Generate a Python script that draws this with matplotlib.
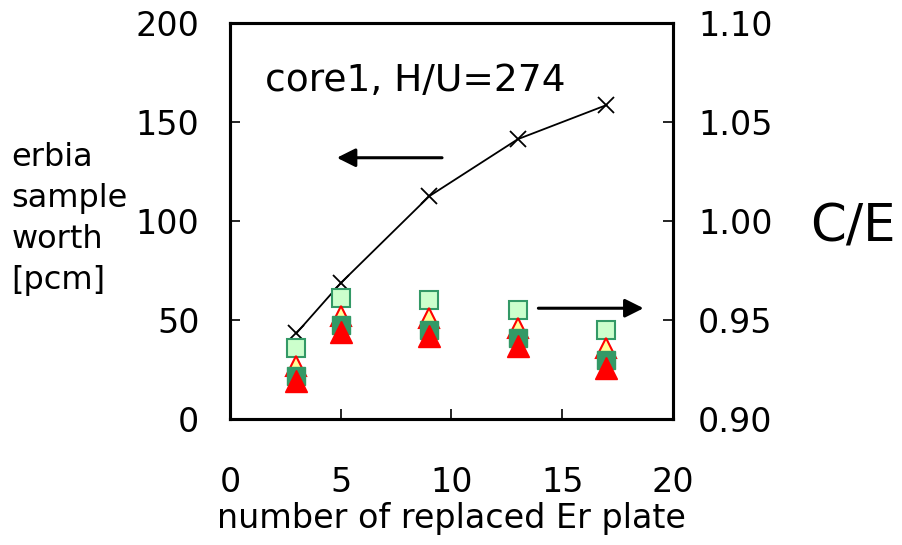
import matplotlib
matplotlib.use("Agg")
import matplotlib.pyplot as plt

# number of replaced Er plates
plates = [3, 5, 9, 13, 17]

# erbia sample worth [pcm] (left axis)
worth = [43.4, 68.7, 112.6, 141.4, 158.6]

# C/E values (right axis)
ce_light_sq = [0.936, 0.961, 0.960, 0.955, 0.945]
ce_yellow_tri = [0.927, 0.952, 0.951, 0.946, 0.936]
ce_blue_circ = [0.9205, 0.946, 0.9435, 0.9395, 0.9285]
ce_dark_sq = [0.922, 0.9475, 0.945, 0.941, 0.930]
ce_red_tri = [0.919, 0.944, 0.942, 0.937, 0.926]

plt.rcParams['font.family'] = ['DejaVu Sans']

fig = plt.figure(figsize=(9.02, 5.45), dpi=100)
ax = fig.add_axes([0.255, 0.231, 0.491, 0.7266])
ax2 = ax.twinx()

ax.plot(plates, worth, color='black', lw=1.3, marker='x', ms=12, mew=1.3, zorder=3)

ax2.plot(plates, ce_light_sq, ls='none', marker='s', ms=13, mfc='#CCFFCC', mec='#339966', mew=1.5)
ax2.plot(plates, ce_yellow_tri, ls='none', marker='^', ms=14, mfc='#FFFF99', mec='#FF0000', mew=1.5)
ax2.plot(plates, ce_blue_circ, ls='none', marker='o', ms=12, mfc='#0000FF', mec='#0000FF')
ax2.plot(plates, ce_dark_sq, ls='none', marker='s', ms=13, mfc='#339966', mec='#339966')
ax2.plot(plates, ce_red_tri, ls='none', marker='^', ms=16, mfc='#FF0000', mec='#FF0000')

ax.set_xlim(0, 20)
ax.set_ylim(0, 200)
ax2.set_ylim(0.90, 1.10)
ax.set_xticks([0, 5, 10, 15, 20])
ax.set_yticks([0, 50, 100, 150, 200])
ax2.set_yticks([0.90, 0.95, 1.00, 1.05, 1.10])
ax2.set_yticklabels(['%.2f' % v for v in [0.90, 0.95, 1.00, 1.05, 1.10]])

for a in (ax, ax2):
    for s in a.spines.values():
        s.set_linewidth(2.2)
    a.tick_params(direction='in', length=7, width=1.2, labelsize=24)
ax.tick_params(axis='y', pad=22)
ax.tick_params(axis='x', pad=34)
ax2.tick_params(axis='y', pad=18)

ax.set_xlabel('number of replaced Er plate', fontsize=24, labelpad=2)

fig.text(0.013, 0.74, 'erbia\nsample\nworth\n[pcm]', fontsize=23, va='top', ha='left', linespacing=1.42)
fig.text(0.898, 0.582, 'C/E', fontsize=37, va='center', ha='left')

ax.text(0.08, 0.855, 'core1, H/U=274', transform=ax.transAxes, fontsize=27, va='center', ha='left')

ax.annotate('', xy=(4.7, 132), xytext=(9.7, 132),
            arrowprops=dict(arrowstyle='-|>', color='black', lw=2.2, mutation_scale=28))
ax.annotate('', xy=(18.8, 56), xytext=(13.8, 56),
            arrowprops=dict(arrowstyle='-|>', color='black', lw=2.2, mutation_scale=28))

fig.savefig('out.png', dpi=100)
